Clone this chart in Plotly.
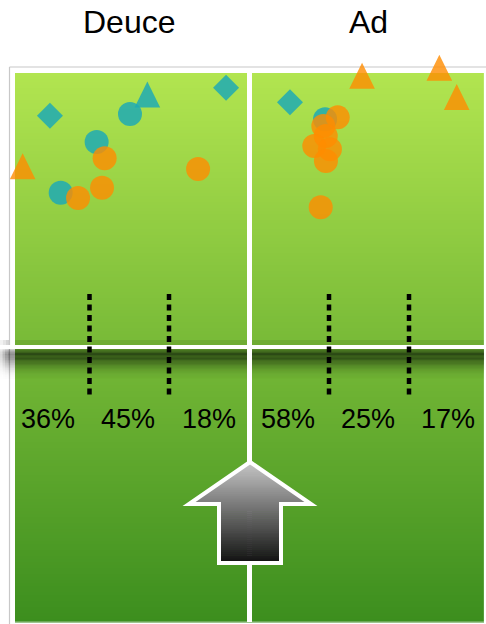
import plotly.graph_objects as go

# ---------------- data ----------------
# Court coordinates in feet: x measured from the centre service line
# (negative = Deuce box, positive = Ad box); y = distance beyond the net.
side_titles = ["Deuce", "Ad"]
deuce_zone_pct = ["36%", "45%", "18%"]
ad_zone_pct = ["58%", "25%", "17%"]

teal_circle_x = [-6.88, -8.80, -10.87, 4.35]
teal_circle_y = [13.41, 11.80, 8.88, 13.11]
teal_diamond_x = [-11.49, -1.35, 2.33]
teal_diamond_y = [13.32, 14.93, 14.09]
teal_triangle_x = [-5.88]
teal_triangle_y = [14.53]

orange_circle_x = [-8.34, -2.96, -8.49, -9.87, 5.08, 4.25, 4.39, 3.73, 4.63, 4.40, 4.10]
orange_circle_y = [10.86, 10.25, 9.17, 8.58, 13.22, 12.72, 12.15, 11.57, 11.38, 10.71, 8.04]
orange_triangle_x = [-13.06, 6.48, 10.93, 11.93]
orange_triangle_y = [10.40, 15.62, 16.07, 14.39]

# ---------------- layout constants ----------------
W, H = 486, 624
PX_PER_FT = 17.37
CENTRE_PX = 249.5
NET_PX = 347.0
TRI_HALF_W_PX = 12.8
TRI_HALF_H_PX = 13.0

TEAL = "rgba(30,170,180,0.85)"
ORANGE = "rgba(255,140,0,0.80)"
FONT = "Liberation Sans, Arial, Helvetica, sans-serif"


def px(x):
    return x / W


def py(y):
    return 1 - y / H


def lerp(a, b, t):
    return a + (b - a) * t


shapes = []


def rect(x0, y0, x1, y1, color):
    shapes.append(dict(type="rect", xref="paper", yref="paper",
                       x0=px(x0), x1=px(x1), y0=py(y0), y1=py(y1),
                       fillcolor=color, line=dict(width=0), layer="below"))


def line(x0, y0, x1, y1, color, width, dash=None):
    d = dict(color=color, width=width)
    if dash:
        d["dash"] = dash
    shapes.append(dict(type="line", xref="paper", yref="paper",
                       x0=px(x0), x1=px(x1), y0=py(y0), y1=py(y1),
                       line=d, layer="below"))


# frame
line(9.5, 67, W, 67, "#c8c8c8", 1.2)
line(9.5, 67, 9.5, H, "#c8c8c8", 1.2)

# court green gradient
G_TOP, G_BOT = 73, 622
C_TOP = (178, 229, 80)
C_BOT = (60, 142, 30)
step = 3
yy = G_TOP
while yy < G_BOT:
    y2 = min(yy + step, G_BOT)
    t = ((yy + y2) / 2 - G_TOP) / (G_BOT - G_TOP)
    c = tuple(int(round(lerp(C_TOP[i], C_BOT[i], t))) for i in range(3))
    rect(15, yy, 484, y2 + 0.6, "rgb(%d,%d,%d)" % c)
    yy = y2

# light edge at bottom/right
line(15, 621.5, 484, 621.5, "rgba(255,255,255,0.25)", 1)
line(484, 73, 484, 622, "rgba(255,255,255,0.25)", 1)

# net shadow above
rect(15, 340, 484, 345, "rgba(0,0,0,0.07)")
for i, a in enumerate([0.05, 0.10, 0.16]):
    rect(3 * i, 340, 3 * i + 3, 345, "rgba(0,0,0,%.2f)" % a)
# net shadow below
prof = [0.35, 0.55, 0.68, 0.74, 0.76, 0.75, 0.72, 0.68, 0.62, 0.56, 0.50, 0.44,
        0.38, 0.32, 0.27, 0.22, 0.18, 0.14, 0.11, 0.08, 0.06, 0.04, 0.03, 0.02]
for i, a in enumerate(prof):
    y0 = 349 + i * 1.25
    rect(15, y0, 484, y0 + 1.35, "rgba(20,38,10,%.3f)" % a)
    for j, f in enumerate([0.25, 0.45, 0.65, 0.8]):
        rect(j * 2.5, y0, j * 2.5 + 2.5, y0 + 1.35, "rgba(0,0,0,%.3f)" % (a * f * 0.75))
    rect(10, y0, 15, y0 + 1.35, "rgba(0,0,0,%.3f)" % (a * 0.55))
# net line
rect(0, 345, W, 349, "white")

# centre service line
rect(247, 73, 252, 622, "white")

# zone dividers
for xd in [89.5, 169, 329, 409]:
    line(xd, 294, xd, 397, "black", 4.5, dash="6px,4.5px")

# arrow (gradient fill via strips)
TIP, BASE, BOTTOM = 462.0, 504.0, 563.0
HEAD_HW, SHAFT_HW = 61.0, 31.0
CX = 250.0


def hw(y, head=True):
    if head:
        return (y - TIP) / (BASE - TIP) * HEAD_HW
    return SHAFT_HW


def shade(y):
    t = (y - TIP) / (BOTTOM - TIP)
    v = int(round(lerp(200, 18, t)))
    return "rgb(%d,%d,%d)" % (v, v, v)


def strip(ya, yb, head):
    a, b = hw(ya, head), hw(yb, head)
    path = "M %f %f L %f %f L %f %f L %f %f Z" % (
        px(CX - a), py(ya), px(CX + a), py(ya), px(CX + b), py(yb), px(CX - b), py(yb))
    c = shade((ya + yb) / 2)
    shapes.append(dict(type="path", xref="paper", yref="paper", path=path,
                       fillcolor=c, line=dict(color=c, width=0.8), layer="below"))


n = 21
for i in range(n):
    strip(TIP + (BASE - TIP) * i / n, TIP + (BASE - TIP) * (i + 1) / n, True)
n = 30
for i in range(n):
    strip(BASE + (BOTTOM - BASE) * i / n, BASE + (BOTTOM - BASE) * (i + 1) / n, False)
outline = [(CX, TIP), (CX + HEAD_HW, BASE), (CX + SHAFT_HW, BASE), (CX + SHAFT_HW, BOTTOM),
           (CX - SHAFT_HW, BOTTOM), (CX - SHAFT_HW, BASE), (CX - HEAD_HW, BASE)]
path = "M " + " L ".join("%f %f" % (px(a), py(b)) for a, b in outline) + " Z"
shapes.append(dict(type="path", xref="paper", yref="paper", path=path,
                   fillcolor="rgba(0,0,0,0)", line=dict(color="white", width=4),
                   layer="below"))

# ---------------- traces ----------------
fig = go.Figure()


def add(xs, ys, symbol, color, size, name):
    fig.add_trace(go.Scatter(x=xs, y=ys, mode="markers", name=name,
                             marker=dict(symbol=symbol, color=color, size=size,
                                         line=dict(width=0)),
                             cliponaxis=False, hoverinfo="skip"))


def add_triangles(xs, ys, color, name):
    hwf = TRI_HALF_W_PX / PX_PER_FT
    hhf = TRI_HALF_H_PX / PX_PER_FT
    tx, ty = [], []
    for x, y in zip(xs, ys):
        tx += [x - hwf, x + hwf, x, x - hwf, None]
        ty += [y - hhf, y - hhf, y + hhf, y - hhf, None]
    fig.add_trace(go.Scatter(x=tx, y=ty, mode="lines", fill="toself", name=name,
                             fillcolor=color, line=dict(width=0),
                             connectgaps=False, cliponaxis=False, hoverinfo="skip"))


add(teal_circle_x, teal_circle_y, "circle", TEAL, 24, "Teal circle")
add(teal_diamond_x, teal_diamond_y, "diamond", TEAL, 20, "Teal diamond")
add_triangles(teal_triangle_x, teal_triangle_y, TEAL, "Teal triangle")
add(orange_circle_x, orange_circle_y, "circle", ORANGE, 24, "Orange circle")
add_triangles(orange_triangle_x, orange_triangle_y, ORANGE, "Orange triangle")

# ---------------- annotations ----------------
ann = []
for t, xc in zip(side_titles, [129.5, 368.5]):
    ann.append(dict(text=t, x=px(xc), y=py(22), xref="paper", yref="paper",
                    showarrow=False, xanchor="center", yanchor="middle",
                    font=dict(family=FONT, size=32, color="black")))
pct_labels = deuce_zone_pct + ad_zone_pct
for t, xc in zip(pct_labels, [48.3, 128.3, 209, 288.3, 368.3, 448.3]):
    ann.append(dict(text=t, x=px(xc), y=py(419), xref="paper", yref="paper",
                    showarrow=False, xanchor="center", yanchor="middle",
                    font=dict(family=FONT, size=27, color="black")))

fig.update_layout(
    width=W, height=H,
    margin=dict(l=0, r=0, t=0, b=0),
    paper_bgcolor="white", plot_bgcolor="rgba(0,0,0,0)",
    showlegend=False,
    shapes=shapes, annotations=ann,
    xaxis=dict(range=[(0 - CENTRE_PX) / PX_PER_FT, (W - CENTRE_PX) / PX_PER_FT],
               visible=False, fixedrange=True),
    yaxis=dict(range=[(NET_PX - H) / PX_PER_FT, NET_PX / PX_PER_FT],
               visible=False, fixedrange=True),
)

fig.write_html("out.html", config={"displayModeBar": False},
               post_script="document.body.style.margin='0px';")
